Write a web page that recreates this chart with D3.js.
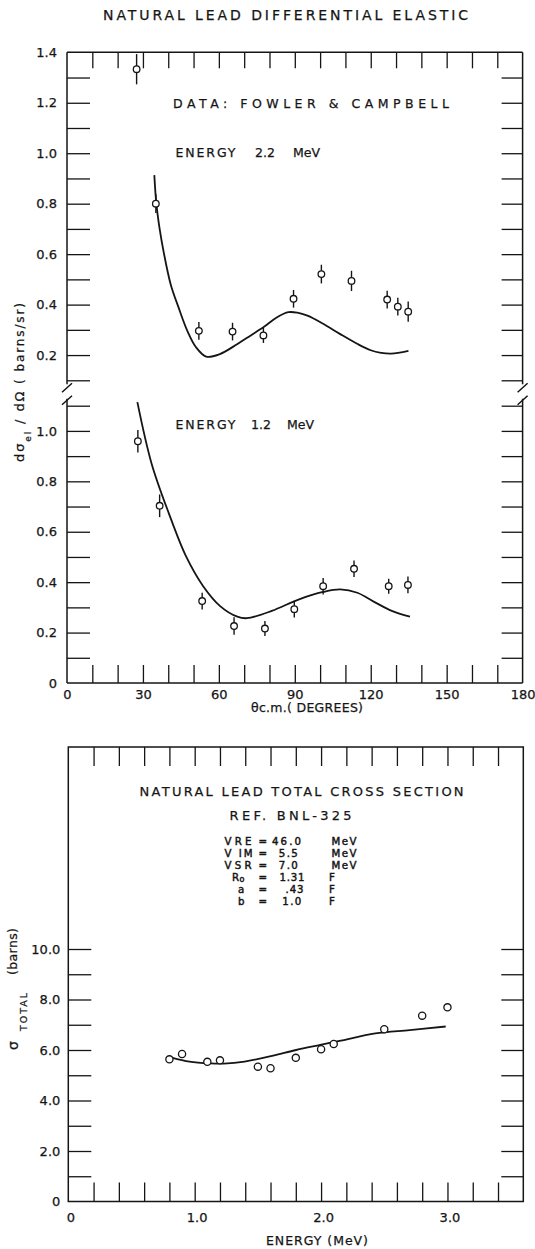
<!DOCTYPE html>
<html><head><meta charset="utf-8">
<script src="https://cdn.jsdelivr.net/npm/d3@7"></script>
<style>
body{margin:0;background:#fff}
svg{display:block}
text{font-family:"DejaVu Sans",sans-serif;fill:#151515;stroke:#151515;stroke-width:0.25}
</style>
</head><body>
<svg id="c" width="535" height="1249"></svg>
<script>
// ---------------- data ----------------
const chartTitle = "NATURAL LEAD DIFFERENTIAL ELASTIC";
const angleTicks = [0, 30, 60, 90, 120, 150, 180];
const upperTicks = [0.2, 0.4, 0.6, 0.8, 1.0, 1.2, 1.4];
const lowerTicks = [0, 0.2, 0.4, 0.6, 0.8, 1.0];

// 2.2 MeV measurements (Fowler & Campbell)
const angle22 = [27.5, 35.1, 52.1, 65.4, 77.6, 89.5, 100.5, 112.4, 126.5, 130.7, 134.8];
const sigma22 = [1.333, 0.800, 0.296, 0.293, 0.278, 0.423, 0.521, 0.494, 0.420, 0.392, 0.372];
const err22   = [0.06, 0.037, 0.035, 0.035, 0.03, 0.035, 0.037, 0.04, 0.035, 0.035, 0.04];
// 2.2 MeV optical-model curve
const curve22Angle = [34.5, 35.3, 36.6, 38.2, 41.0, 44.1, 47.5, 50.9, 55.0, 60.4, 67.2, 72.6, 78.0, 83.0, 87.5, 91.0, 95.0, 101.0, 107.8, 114.6, 120.0, 124.1, 128.1, 134.9];
const curve22Sigma = [0.913, 0.800, 0.700, 0.608, 0.479, 0.388, 0.297, 0.232, 0.194, 0.204, 0.243, 0.278, 0.313, 0.350, 0.370, 0.368, 0.356, 0.325, 0.284, 0.245, 0.219, 0.209, 0.206, 0.217];

// 1.2 MeV measurements
const angle12 = [28.0, 36.6, 53.4, 66.0, 78.2, 89.8, 101.2, 113.4, 127.1, 134.7];
const sigma12 = [0.959, 0.703, 0.325, 0.226, 0.216, 0.293, 0.384, 0.453, 0.384, 0.389];
const err12   = [0.045, 0.045, 0.033, 0.035, 0.03, 0.033, 0.033, 0.033, 0.03, 0.033];
// 1.2 MeV curve
const curve12Angle = [27.8, 33.4, 40.2, 47.0, 53.8, 60.5, 67.3, 71.1, 80.9, 91.7, 101.2, 108.0, 114.7, 121.5, 128.3, 135.5];
const curve12Sigma = [1.114, 0.871, 0.674, 0.503, 0.384, 0.305, 0.263, 0.257, 0.286, 0.332, 0.361, 0.371, 0.358, 0.321, 0.286, 0.263];

// total cross section
const energyTicks = [0, 1.0, 2.0, 3.0];
const totalTicks = [0, 2.0, 4.0, 6.0, 8.0, 10.0];
const energy = [0.8, 0.9, 1.1, 1.2, 1.5, 1.6, 1.8, 2.0, 2.1, 2.5, 2.8, 3.0];
const total  = [5.63, 5.84, 5.53, 5.59, 5.34, 5.28, 5.69, 6.03, 6.24, 6.82, 7.36, 7.69];
const curveEnergy = [0.818, 0.959, 1.122, 1.231, 1.395, 1.612, 1.803, 1.993, 2.156, 2.429, 2.701, 2.986];
const curveTotal  = [5.70, 5.54, 5.47, 5.46, 5.54, 5.77, 6.00, 6.20, 6.37, 6.66, 6.79, 6.93];

const paramNames  = ["VRE", "V IM", "VSR", "R", "a", "b"];
const paramValues = ["46.0", "5.5", "7.0", "1.31", ".43", "1.0"];
const paramUnits  = ["MeV", "MeV", "MeV", "F", "F", "F"];

// ---------------- drawing ----------------
const ink = "#151515";
const svg = d3.select("#c");

const x1 = d3.scaleLinear([0, 180], [67, 522.6]);
const yU = d3.scaleLinear([0.1, 1.4], [380.3, 52.3]);
const yL = d3.scaleLinear([0, 1.1], [683, 405.7]);
const x2 = d3.scaleLinear([0, 3.6], [68.3, 523.3]);
const y2 = d3.scaleLinear([0, 18], [1201.5, 747]);

function styleAxis(g, fs) {
  g.select(".domain").remove();
  g.selectAll(".tick line").attr("stroke", ink).attr("stroke-width", 1.3);
  g.selectAll(".tick text").attr("fill", ink).attr("font-size", fs || 13)
    .attr("font-family", '"DejaVu Sans",sans-serif');
  g.attr("font-family", null).attr("font-size", null);
}
function ticksG(axis, tx, ty) {
  svg.append("g").attr("transform", `translate(${tx},${ty})`).call(axis).call(g => styleAxis(g));
}
const tenths = n => d3.range(1, n + 1).map(i => i / 10);

// title
svg.append("text").attr("x", 103).attr("y", 20).attr("font-size", 14)
  .attr("textLength", 365).attr("lengthAdjust", "spacing").text(chartTitle);

// ---- top panel frame ----
const fr = svg.append("g").attr("stroke", ink).attr("stroke-width", 1.5).attr("fill", "none");
const L = x1(0), R = x1(180), T = yU(1.4), B = yL(0);
const brkU = yU(0.1) + 4, brkL = yL(1.1) - 7;
fr.append("line").attr("x1", L).attr("x2", R).attr("y1", T).attr("y2", T);
fr.append("line").attr("x1", L).attr("x2", R).attr("y1", B).attr("y2", B);
[L, R].forEach(xx => {
  fr.append("line").attr("x1", xx).attr("x2", xx).attr("y1", T).attr("y2", brkU);
  fr.append("line").attr("x1", xx).attr("x2", xx).attr("y1", brkL).attr("y2", B);
  fr.append("line").attr("x1", xx - 5).attr("x2", xx + 5).attr("y1", brkU + 8).attr("y2", brkU - 1);
  fr.append("line").attr("x1", xx - 5).attr("x2", xx + 5).attr("y1", brkL + 6).attr("y2", brkL - 3);
});

// ticks
const degMinor = d3.range(10, 180, 10);
ticksG(d3.axisTop(x1).tickValues(degMinor).tickSize(18).tickFormat(""), 0, B);
ticksG(d3.axisBottom(x1).tickValues(degMinor).tickSize(16).tickFormat(""), 0, T);
ticksG(d3.axisRight(yU).tickValues(tenths(13)).tickSize(23).tickFormat(""), L, 0);
ticksG(d3.axisLeft(yU).tickValues(tenths(13)).tickSize(21).tickFormat(""), R, 0);
ticksG(d3.axisRight(yL).tickValues(tenths(11)).tickSize(23).tickFormat(""), L, 0);
ticksG(d3.axisLeft(yL).tickValues(tenths(11)).tickSize(21).tickFormat(""), R, 0);

// tick labels
svg.append("g").attr("transform", `translate(0,${B})`)
  .call(d3.axisBottom(x1).tickValues(angleTicks).tickSize(0).tickPadding(7).tickFormat(d3.format("d")))
  .call(g => styleAxis(g, 13));
svg.append("g").attr("transform", `translate(${L - 1},0)`)
  .call(d3.axisLeft(yU).tickValues(upperTicks).tickSize(0).tickPadding(9).tickFormat(d3.format(".1f")))
  .call(g => styleAxis(g, 13));
svg.append("g").attr("transform", `translate(${L - 1},0)`)
  .call(d3.axisLeft(yL).tickValues(lowerTicks).tickSize(0).tickPadding(9).tickFormat(d => d === 0 ? "0" : d.toFixed(1)))
  .call(g => styleAxis(g, 13));

// panel texts
svg.append("text").attr("x", 173).attr("y", 108).attr("font-size", 12.5)
  .attr("textLength", 276).attr("lengthAdjust", "spacing").text("DATA: FOWLER & CAMPBELL");
function energyLabel(y, num, xs) {
  const g = svg.append("g").attr("font-size", 12.5);
  g.append("text").attr("x", xs[0]).attr("y", y).attr("textLength", 60).attr("lengthAdjust", "spacing").text("ENERGY");
  g.append("text").attr("x", xs[1]).attr("y", y).text(num);
  g.append("text").attr("x", xs[2]).attr("y", y).text("MeV");
}
energyLabel(157, "2.2", [175.5, 255, 293]);
energyLabel(429, "1.2", [175.5, 251, 287]);

// axis titles
svg.append("text").attr("x", 251).attr("y", 712).attr("font-size", 12.5)
  .attr("textLength", 112).attr("lengthAdjust", "spacing").text("θc.m.( DEGREES)");

const yt = svg.append("text").attr("transform", "translate(24,462) rotate(-90)")
  .attr("font-size", 13).attr("textLength", 159).attr("lengthAdjust", "spacing");
yt.append("tspan").text("dσ");
yt.append("tspan").attr("font-size", 9).attr("dy", 7).text("el");
yt.append("tspan").attr("dy", -7).text(" / dΩ");
yt.append("tspan").attr("font-size", 12).text(" ( barns/sr)");

// curves
const line1 = (ys) => d3.line().x(d => x1(d[0])).y(d => ys(d[1])).curve(d3.curveCatmullRom.alpha(0.5));
svg.append("path").datum(d3.zip(curve22Angle, curve22Sigma)).attr("d", line1(yU))
  .attr("fill", "none").attr("stroke", ink).attr("stroke-width", 1.8);
svg.append("path").datum(d3.zip(curve12Angle, curve12Sigma)).attr("d", line1(yL))
  .attr("fill", "none").attr("stroke", ink).attr("stroke-width", 1.8);

// data points with error bars
function points(angles, vals, errs, ys) {
  const g = svg.append("g");
  const d = angles.map((a, i) => ({a, v: vals[i], e: errs[i]}));
  g.selectAll("line.eb").data(d).join("line")
    .attr("x1", p => x1(p.a)).attr("x2", p => x1(p.a))
    .attr("y1", p => ys(p.v + p.e)).attr("y2", p => ys(p.v - p.e))
    .attr("stroke", ink).attr("stroke-width", 1.4);
  g.selectAll("circle").data(d).join("circle")
    .attr("cx", p => x1(p.a)).attr("cy", p => ys(p.v)).attr("r", 3.3)
    .attr("fill", "#fff").attr("stroke", ink).attr("stroke-width", 1.3);
}
points(angle22, sigma22, err22, yU);
points(angle12, sigma12, err12, yL);

// ---- bottom panel ----
const L2 = x2(0), R2 = x2(3.6), T2 = y2(18), B2 = y2(0);
svg.append("rect").attr("x", L2).attr("y", T2).attr("width", R2 - L2).attr("height", B2 - T2)
  .attr("fill", "none").attr("stroke", ink).attr("stroke-width", 1.5);
const eMinor = d3.range(1, 18).map(i => i * 0.2);
const tMinor = d3.range(1, 11);
ticksG(d3.axisTop(x2).tickValues(eMinor).tickSize(19).tickFormat(""), 0, B2);
ticksG(d3.axisBottom(x2).tickValues(eMinor).tickSize(19).tickFormat(""), 0, T2);
ticksG(d3.axisRight(y2).tickValues(tMinor).tickSize(23).tickFormat(""), L2, 0);
ticksG(d3.axisLeft(y2).tickValues(tMinor).tickSize(22).tickFormat(""), R2, 0);

svg.append("g").attr("transform", `translate(2,${B2})`)
  .call(d3.axisBottom(x2).tickValues(energyTicks).tickSize(0).tickPadding(11).tickFormat(d => d === 0 ? "0" : d.toFixed(1)))
  .call(g => styleAxis(g, 13));
svg.append("g").attr("transform", `translate(${L2 - 1},0)`)
  .call(d3.axisLeft(y2).tickValues(totalTicks).tickSize(0).tickPadding(7).tickFormat(d => d === 0 ? "0" : d.toFixed(1)))
  .call(g => styleAxis(g, 13));

svg.append("text").attr("x", 266).attr("y", 1245).attr("font-size", 12.5)
  .attr("textLength", 102).attr("lengthAdjust", "spacing").text("ENERGY (MeV)");

// rotated y title of the bottom panel, placed piece by piece
svg.append("text").attr("transform", "translate(18,1050) rotate(-90)").attr("font-size", 14).text("σ");
svg.append("text").attr("transform", "translate(26.5,1031) rotate(-90)").attr("font-size", 9.5)
  .attr("textLength", 38).attr("lengthAdjust", "spacing").text("TOTAL");
svg.append("text").attr("transform", "translate(17,975) rotate(-90)").attr("font-size", 12.5)
  .attr("textLength", 47).attr("lengthAdjust", "spacing").text("(barns)");

// block of text
svg.append("text").attr("x", 139.6).attr("y", 796).attr("font-size", 13)
  .attr("textLength", 324).attr("lengthAdjust", "spacing").text("NATURAL LEAD TOTAL CROSS SECTION");
svg.append("text").attr("x", 229.6).attr("y", 820).attr("font-size", 13)
  .attr("textLength", 122).attr("lengthAdjust", "spacing").text("REF. BNL-325");

const nameX = [224.5, 224.5, 224.5, 232, 238, 238];
const nameW = [27, 28, 27, 0, 0, 0];
const valX = [272, 278.8, 278.8, 279.5, 285.6, 282.3];
const valW = [29, 19, 19, 25, 18, 19];
const unitX = [331.5, 331.5, 331.5, 329, 329, 329];
paramNames.forEach((n, i) => {
  const y = 845 + i * 11.9;
  const t = svg.append("text").attr("y", y).attr("font-size", 10.2).style("stroke-width", 0.45);
  const nm = t.append("tspan").attr("x", nameX[i]).text(n);
  if (nameW[i]) nm.attr("textLength", nameW[i]).attr("lengthAdjust", "spacing");
  if (n === "R") t.append("tspan").attr("font-size", 8).attr("dy", 1.5).attr("dx", 0.5).text("o");
  t.append("tspan").attr("x", 258.5).attr("y", y).text("=");
  t.append("tspan").attr("x", valX[i]).attr("textLength", valW[i]).attr("lengthAdjust", "spacing").text(paramValues[i]);
  t.append("tspan").attr("x", unitX[i]).attr("textLength", paramUnits[i] === "MeV" ? 25 : 7).attr("lengthAdjust", "spacing").text(paramUnits[i]);
});

// curve + points
svg.append("path").datum(d3.zip(curveEnergy, curveTotal))
  .attr("d", d3.line().x(d => x2(d[0])).y(d => y2(d[1])).curve(d3.curveCatmullRom.alpha(0.5)))
  .attr("fill", "none").attr("stroke", ink).attr("stroke-width", 1.8);
svg.append("g").selectAll("circle").data(d3.zip(energy, total)).join("circle")
  .attr("cx", d => x2(d[0])).attr("cy", d => y2(d[1])).attr("r", 3.6)
  .attr("fill", "#fff").attr("stroke", ink).attr("stroke-width", 1.3);
</script>
</body></html>
